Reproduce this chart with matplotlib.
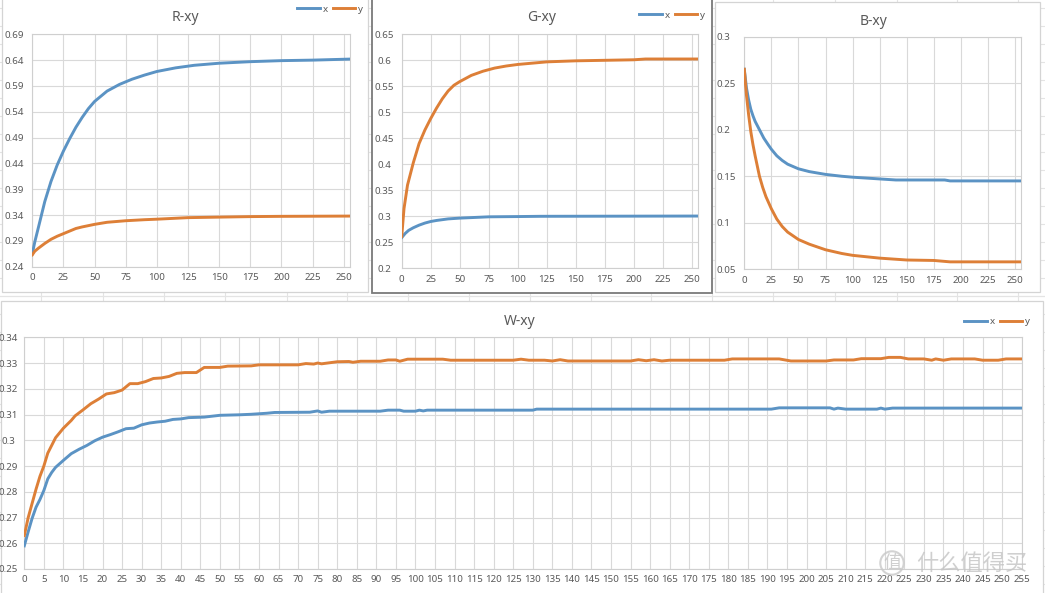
import matplotlib
matplotlib.use("Agg")
import matplotlib.pyplot as plt
from matplotlib.patches import Rectangle

# ---------------- data ----------------
R_x_idx = [0, 2, 5, 10, 15, 20, 25, 30, 35, 40, 45, 50, 60, 70, 75, 80, 90, 100, 115, 130, 150, 175, 200, 225, 240, 255]
R_x_val = [0.265, 0.288, 0.317, 0.366, 0.405, 0.437, 0.464, 0.488, 0.510, 0.529, 0.546, 0.560, 0.580, 0.593, 0.598, 0.603,
           0.611, 0.618, 0.625, 0.630, 0.634, 0.637, 0.639, 0.640, 0.641, 0.642]
R_y_idx = [0, 2, 5, 10, 15, 20, 25, 30, 35, 40, 50, 60, 75, 90, 100, 125, 150, 175, 200, 255]
R_y_val = [0.263, 0.270, 0.276, 0.285, 0.293, 0.299, 0.304, 0.309, 0.314, 0.317, 0.322, 0.326, 0.329, 0.331, 0.332,
           0.335, 0.336, 0.337, 0.3375, 0.338]

G_x_idx = [0, 3, 6, 10, 15, 20, 25, 30, 40, 50, 60, 75, 100, 120, 255]
G_x_val = [0.259, 0.267, 0.273, 0.278, 0.283, 0.287, 0.290, 0.292, 0.295, 0.2965, 0.2975, 0.299, 0.2995, 0.300, 0.3005]
G_y_idx = [0, 2, 5, 10, 15, 20, 25, 30, 35, 40, 45, 50, 60, 70, 80, 90, 100, 110, 125, 150, 175, 200, 210, 255]
G_y_val = [0.261, 0.315, 0.360, 0.403, 0.440, 0.466, 0.488, 0.508, 0.526, 0.541, 0.552, 0.559, 0.571, 0.579, 0.585,
           0.589, 0.592, 0.594, 0.597, 0.599, 0.600, 0.601, 0.6025, 0.6025]

B_x_idx = [0, 2, 4, 6, 8, 10, 14, 18, 22, 25, 30, 35, 40, 50, 60, 75, 90, 100, 120, 140, 185, 190, 255]
B_x_val = [0.265, 0.245, 0.232, 0.222, 0.215, 0.209, 0.200, 0.191, 0.184, 0.179, 0.172, 0.167, 0.163, 0.158, 0.155,
           0.152, 0.150, 0.149, 0.1475, 0.146, 0.146, 0.145, 0.145]
B_y_idx = [0, 2, 4, 6, 8, 10, 12, 14, 17, 20, 25, 30, 35, 40, 50, 60, 75, 90, 100, 125, 150, 175, 190, 255]
B_y_val = [0.265, 0.237, 0.216, 0.198, 0.184, 0.172, 0.161, 0.150, 0.138, 0.128, 0.115, 0.104, 0.096, 0.090, 0.082,
           0.077, 0.071, 0.067, 0.065, 0.062, 0.060, 0.0595, 0.058, 0.058]

W_x_idx = [0, 1, 2, 3, 4, 5, 6, 7, 8, 10, 12, 14, 16, 18, 20, 22, 24, 26, 28, 30, 32, 34, 36, 38, 40, 42, 46, 50,
           55, 58, 62, 64, 73, 75, 76, 78, 91, 93, 96, 97, 100, 101, 102, 103, 130, 131, 191, 193, 206, 207, 208,
           210, 218, 219, 220, 222, 255]
W_x_val = [0.259, 0.2645, 0.2697, 0.274, 0.277, 0.2805, 0.285, 0.2875, 0.2895, 0.2922, 0.2948, 0.2965, 0.298,
           0.2998, 0.3012, 0.3022, 0.3033, 0.3045, 0.3047, 0.306, 0.3067, 0.3071, 0.3074, 0.3081, 0.3083, 0.3088,
           0.309, 0.3097, 0.3099, 0.3101, 0.3105, 0.3108, 0.3109, 0.3114, 0.3109, 0.3113, 0.3113, 0.3117, 0.3117,
           0.3113, 0.3113, 0.3117, 0.3114, 0.3117, 0.3117, 0.3121, 0.3121, 0.3126, 0.3126, 0.3121, 0.3125, 0.3121,
           0.3121, 0.3125, 0.3121, 0.3125, 0.3125]
W_y_idx = [0, 1, 2, 3, 4, 5, 6, 7, 8, 10, 12, 13, 15, 17, 19, 21, 23, 25, 27, 29, 31, 33, 35, 37, 39, 41, 44, 46,
           50, 52, 58, 60, 70, 72, 74, 75, 76, 78, 80, 83, 84, 86, 91, 93, 95, 96, 98, 107, 109, 125, 127, 129,
           133, 135, 137, 139, 155, 157, 159, 161, 163, 165, 179, 181, 193, 196, 205, 207, 212, 214, 219, 221,
           224, 226, 230, 232, 233, 235, 237, 243, 245, 249, 251, 255]
W_y_val = [0.263, 0.270, 0.2755, 0.281, 0.286, 0.290, 0.295, 0.298, 0.301, 0.3047, 0.3077, 0.3095, 0.3118, 0.3142,
           0.316, 0.318, 0.3185, 0.3195, 0.322, 0.322, 0.3228, 0.324, 0.3242, 0.3248, 0.326, 0.3263, 0.3263,
           0.3283, 0.3283, 0.3288, 0.3289, 0.3293, 0.3293, 0.3298, 0.3296, 0.3300, 0.3297, 0.3301, 0.3305,
           0.3306, 0.3303, 0.3307, 0.3307, 0.3312, 0.3312, 0.3307, 0.3315, 0.3315, 0.3311, 0.3311, 0.3315,
           0.3311, 0.3311, 0.3308, 0.3313, 0.3308, 0.3308, 0.3313, 0.3309, 0.3313, 0.3308, 0.3311, 0.3311,
           0.3316, 0.3316, 0.3308, 0.3308, 0.3312, 0.3312, 0.3317, 0.3317, 0.3322, 0.3322, 0.3316, 0.3316,
           0.3311, 0.3316, 0.3311, 0.3316, 0.3316, 0.3311, 0.3311, 0.3316, 0.3316]

R_yticks = [0.24, 0.29, 0.34, 0.39, 0.44, 0.49, 0.54, 0.59, 0.64, 0.69]
R_ylabels = ["0.24", "0.29", "0.34", "0.39", "0.44", "0.49", "0.54", "0.59", "0.64", "0.69"]
G_yticks = [0.2, 0.25, 0.3, 0.35, 0.4, 0.45, 0.5, 0.55, 0.6, 0.65]
G_ylabels = ["0.2", "0.25", "0.3", "0.35", "0.4", "0.45", "0.5", "0.55", "0.6", "0.65"]
B_yticks = [0.05, 0.1, 0.15, 0.2, 0.25, 0.3]
B_ylabels = ["0.05", "0.1", "0.15", "0.2", "0.25", "0.3"]
W_yticks = [0.25, 0.26, 0.27, 0.28, 0.29, 0.30, 0.31, 0.32, 0.33, 0.34]
W_ylabels = ["0.25", "0.26", "0.27", "0.28", "0.29", "0.3", "0.31", "0.32", "0.33", "0.34"]
small_xticks = list(range(0, 251, 25))
W_xticks = list(range(0, 256, 5))

titles = ["R-xy", "G-xy", "B-xy", "W-xy"]
series_names = ["x", "y"]

# ---------------- styling ----------------
BLUE = "#5b93c4"
ORANGE = "#dd7f37"
GRID = "#d9d9d9"
TXT = "#595959"
FONT = ["Noto Sans", "DejaVu Sans"]
plt.rcParams["font.family"] = FONT

Wpx, Hpx = 1045, 593
fig = plt.figure(figsize=(Wpx / 100, Hpx / 100), dpi=100)


def rect(l, t, r, b):
    return [l / Wpx, 1 - b / Hpx, (r - l) / Wpx, (b - t) / Hpx]


# spreadsheet background
bg = fig.add_axes([0, 0, 1, 1])
bg.set_xlim(0, Wpx)
bg.set_ylim(Hpx, 0)
bg.axis("off")
for cx in [41, 103, 164, 225, 287, 347, 408, 469, 530, 591, 651, 712, 773, 835, 897, 957, 1018]:
    bg.plot([cx, cx], [0, Hpx], color="#e4e4e4", lw=0.8, zorder=0)
for ry in range(8, Hpx, 18):
    bg.plot([0, Wpx], [ry, ry], color="#e4e4e4", lw=0.8, zorder=0)
bg.plot([0, Wpx], [296, 296], color="#e4e4e4", lw=0.8, zorder=0)
# chart boxes
bg.add_patch(Rectangle((2, -2), 366, 294, fc="white", ec="#d4d4d4", lw=0.9, zorder=1))
bg.add_patch(Rectangle((715, 2), 325, 290, fc="white", ec="#d4d4d4", lw=0.9, zorder=1))
bg.add_patch(Rectangle((0.5, 301), 1042, 300, fc="white", ec="#d4d4d4", lw=0.9, zorder=1))
bg.add_patch(Rectangle((372, -2), 340, 295, fc="white", ec="#7a7a7a", lw=1.3, zorder=2))


def make(box, idx1, v1, idx2, v2, ylim, yticks, ylabels, xticks, title, title_xy,
         leg_xy, ha, pad, lw=2.1):
    ax = fig.add_axes(rect(*box))
    ax.set_facecolor("none")
    l1, = ax.plot(idx1, v1, color=BLUE, lw=lw, solid_joinstyle="round", label=series_names[0], zorder=3)
    l2, = ax.plot(idx2, v2, color=ORANGE, lw=lw, solid_joinstyle="round", label=series_names[1], zorder=3)
    ax.set_xlim(0, 255)
    ax.set_ylim(*ylim)
    ax.set_xticks(xticks)
    ax.set_xticklabels([str(t) for t in xticks])
    ax.set_yticks(yticks)
    ax.set_yticklabels(ylabels)
    ax.grid(True, color=GRID, lw=0.8)
    ax.set_axisbelow(True)
    for s in ax.spines.values():
        s.set_color("#cfcfcf")
        s.set_linewidth(0.8)
    ax.tick_params(axis="both", length=0, colors=TXT, labelsize=7)
    ax.tick_params(axis="x", pad=4.5)
    ax.tick_params(axis="y", pad=pad)
    for t in ax.get_yticklabels():
        t.set_horizontalalignment(ha)
    fig.text(title_xy[0] / Wpx, 1 - title_xy[1] / Hpx, title, ha="center", va="center",
             fontsize=10, color=TXT)
    if leg_xy is not None:
        leg = ax.legend(handles=[l1, l2], ncol=2, loc="center right",
                        bbox_to_anchor=(leg_xy[0] / Wpx, 1 - leg_xy[1] / Hpx),
                        bbox_transform=fig.transFigure, frameon=False, fontsize=7,
                        handlelength=2.3, handletextpad=0.3, columnspacing=0.5,
                        borderpad=0, borderaxespad=0)
        for t in leg.get_texts():
            t.set_color(TXT)
    return ax


make((32.3, 34.3, 350, 266.7), R_x_idx, R_x_val, R_y_idx, R_y_val, (0.24, 0.69),
     R_yticks, R_ylabels, small_xticks, titles[0], (185, 17.5), (363, 9), "center", 12.8)
make((401.7, 34.3, 697.7, 268.3), G_x_idx, G_x_val, G_y_idx, G_y_val, (0.2, 0.65),
     G_yticks, G_ylabels, small_xticks, titles[1], (542, 17.5), (705, 15), "center", 12.7)
make((744.3, 36.7, 1020.5, 269.3), B_x_idx, B_x_val, B_y_idx, B_y_val, (0.05, 0.3),
     B_yticks, B_ylabels, small_xticks, titles[2], (874, 21.7), None, "left", 19.7)
make((24.3, 337.3, 1021.7, 569), W_x_idx, W_x_val, W_y_idx, W_y_val, (0.25, 0.34),
     W_yticks, W_ylabels, W_xticks, titles[3], (520, 321), (1030, 322), "center", 11.7)

# watermark (semi-transparent, over the axis labels as in the reference)
fig.text(892 / Wpx, 1 - 563 / Hpx, "值", fontsize=13, color="#c4c4c4", alpha=0.8,
         ha="center", va="center", family=["Noto Sans CJK SC", "DejaVu Sans"],
         bbox=dict(boxstyle="circle,pad=0.15", fc="none", ec="#c8c8c8", lw=1.5, alpha=0.8))
fig.text(972 / Wpx, 1 - 563 / Hpx, "什么值得买", fontsize=16, color="#c4c4c4", alpha=0.8,
         ha="center", va="center", family=["Noto Sans CJK SC", "DejaVu Sans"])

fig.savefig("out.png", dpi=100)
